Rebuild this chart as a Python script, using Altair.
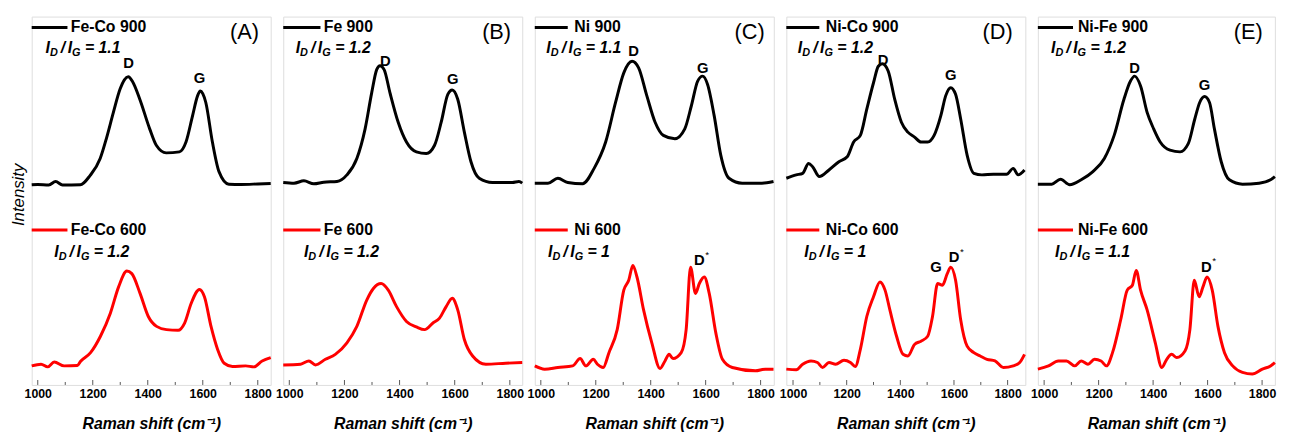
import altair as alt
import pandas as pd

FONT = "Liberation Sans"
H = 373
YDOM = [0, 373]

# ---------------- data (Raman shift, intensity a.u.) ----------------
# (A) Fe-Co
feco900_x = [978, 1000, 1040, 1065, 1090, 1155, 1190, 1227, 1250, 1275, 1299, 1315, 1329, 1345, 1371, 1407, 1431,
             1467, 1515, 1539, 1563, 1581, 1591, 1600, 1611, 1635, 1659, 1695, 1740, 1800, 1847]
feco900_y = [202.7, 203, 202.5, 206, 202.5, 202.7, 212, 229.3, 250, 276, 299.3, 309, 312, 307, 289.3, 259.3, 242.7,
             235, 236, 246, 272.7, 292.7, 297.7, 295, 286, 246, 216, 203.3, 203, 203.5, 204]
feco600_x = [978, 1012, 1036, 1060, 1096, 1144, 1156, 1192, 1228, 1264, 1294, 1324, 1342, 1372, 1402, 1432, 1468,
             1510, 1534, 1558, 1588, 1606, 1630, 1654, 1678, 1708, 1756, 1786, 1816, 1847]
feco600_y = [19.3, 21, 18.3, 23.3, 19.3, 19.7, 24, 32.7, 49.3, 72.7, 99.3, 115.3, 112.7, 92.7, 69.3, 59.3, 56,
             55.3, 62.7, 82.7, 96.7, 89.3, 59.3, 36, 22, 18.7, 19.3, 18.3, 24.3, 27.7]
# (B) Fe
fe900_x = [978, 1017, 1053, 1089, 1125, 1173, 1209, 1245, 1275, 1299, 1317, 1329, 1344, 1365, 1395, 1425, 1461,
           1497, 1527, 1551, 1575, 1591, 1611, 1635, 1659, 1689, 1737, 1809, 1833, 1845]
fe900_y = [205, 204.3, 206.7, 203.7, 205.3, 206, 212.7, 229.3, 259.3, 296, 319.3, 323.3, 319.3, 296, 266, 246, 236,
           234.3, 242.7, 266, 294.3, 298.7, 289.3, 256, 226, 209.3, 205, 205, 206, 204.3]
fe600_x = [978, 1041, 1071, 1095, 1131, 1167, 1209, 1245, 1281, 1305, 1333, 1359, 1389, 1425, 1461, 1491, 1521,
           1545, 1569, 1591, 1611, 1635, 1665, 1713, 1785, 1845]
fe600_y = [20.3, 21, 24.3, 20.3, 26, 31, 42.7, 59.3, 86, 97.7, 102.7, 96, 79.3, 64.3, 58.7, 56, 62.7,
           67.7, 79.3, 87.7, 76, 46, 29.3, 21, 22, 22.7]
# (C) Ni
ni900_x = [978, 1026, 1062, 1098, 1152, 1194, 1236, 1272, 1302, 1332, 1356, 1386, 1416, 1446, 1488, 1524, 1548,
           1571, 1589, 1607, 1631, 1655, 1685, 1733, 1805, 1847]
ni900_y = [204.3, 204.3, 209.3, 205, 203.7, 219.3, 246, 286, 316, 327.7, 321, 292.7, 266, 252.7, 249.3, 259.3, 282.7,
           307.7, 312.7, 304.3, 272.7, 232.7, 209.3, 204.3, 204.3, 206]
ni600_x = [978, 1014, 1062, 1116, 1143, 1164, 1191, 1206, 1227, 1248, 1278, 1302, 1320, 1335, 1350, 1374, 1404,
           1434, 1452, 1467, 1481, 1511, 1529, 1545, 1563, 1577, 1595, 1613, 1637, 1661, 1697, 1781, 1817, 1847]
ni600_y = [19.3, 16, 17.7, 19.3, 26.7, 19.3, 26, 21, 17.7, 32.7, 56, 96, 106, 121, 109.3, 76, 42.7,
           16.7, 24.3, 31, 26.7, 32.7, 56, 119.3, 92.7, 102.7, 109.3, 92.7, 52.7, 26, 17.7, 14.3, 16, 16]
# (D) Ni-Co
nico900_x = [975, 1012, 1036, 1058, 1073, 1098, 1134, 1171, 1202, 1226, 1251, 1275, 1300, 1318, 1333, 1355, 1379,
             1404, 1428, 1453, 1477, 1502, 1526, 1551, 1569, 1588, 1606, 1625, 1649, 1674, 1704, 1747, 1796, 1821,
             1839, 1863]
nico900_y = [209.3, 212.7, 214.3, 224.3, 221, 211, 217.7, 226, 231, 246, 252.7, 279.3, 306, 322.7, 325.3, 317.7, 289.3,
             266, 256, 251, 246, 246, 252.7, 272.7, 292.7, 301, 294.3, 269.3, 232.7, 214.3, 212.7, 213.3, 213.3, 219.3,
             212.7, 217.7]
nico600_x = [975, 1012, 1036, 1067, 1091, 1110, 1134, 1159, 1190, 1214, 1232, 1251, 1275, 1300, 1324, 1343, 1361,
             1386, 1410, 1428, 1453, 1477, 1502, 1520, 1539, 1557, 1575, 1588, 1606, 1625, 1649, 1674, 1698, 1723,
             1753, 1784, 1821, 1845, 1863]
nico600_y = [16, 15.3, 21, 24.3, 22.7, 17.7, 22.7, 21, 25, 22.7, 18.7, 36, 69.3, 89.3, 104.3, 96, 76,
             49.3, 31, 29.3, 41, 44.3, 49.3, 69.3, 102.7, 101, 112.7, 119.3, 106, 66, 39.3, 32.7, 29.3, 26,
             24.3, 17.7, 19.3, 22.7, 31]
# (E) Ni-Fe
nife900_x = [977, 1028, 1060, 1094, 1136, 1179, 1221, 1257, 1293, 1317, 1332, 1354, 1378, 1402, 1426, 1462, 1499,
             1529, 1553, 1571, 1589, 1607, 1625, 1650, 1680, 1728, 1789, 1831, 1847]
nife900_y = [203.3, 203.3, 208.3, 202.7, 207.7, 216, 229.3, 252.7, 289.3, 307.7, 312.7, 302.7, 276, 259.3, 246, 237.7,
             236, 244.3, 269.3, 286, 292, 286, 259.3, 226, 207.7, 203.3, 204.3, 207.7, 211]
nife600_x = [977, 1016, 1052, 1082, 1112, 1136, 1161, 1185, 1209, 1229, 1251, 1281, 1305, 1324, 1338, 1354, 1378,
             1408, 1432, 1450, 1468, 1487, 1517, 1535, 1551, 1569, 1583, 1598, 1617, 1638, 1662, 1692, 1728, 1764,
             1801, 1831, 1847]
nife600_y = [16, 19.3, 24.3, 24.3, 19.3, 24.3, 21, 26, 24.3, 19.3, 32.7, 66, 96, 101, 116, 96, 76,
             42.7, 17.7, 26, 31, 27.7, 34.3, 56, 106, 89.3, 99.3, 109.3, 96, 59.3, 32.7, 19.3, 12.7, 11,
             16, 19.3, 22.7]

tags = ["(A)", "(B)", "(C)", "(D)", "(E)"]
names_900 = ["Fe-Co 900", "Fe 900", "Ni 900", "Ni-Co 900", "Ni-Fe 900"]
names_600 = ["Fe-Co 600", "Fe 600", "Ni 600", "Ni-Co 600", "Ni-Fe 600"]
ratio_900 = ["1.1", "1.2", "1.1", "1.2", "1.2"]
ratio_600 = ["1.2", "1.2", "1", "1", "1.1"]
major_ticks = [1000, 1200, 1400, 1600, 1800]
minor_ticks = [1100, 1300, 1500, 1700]

# ---------------- layout / annotation placement ----------------
PANELS = [
    dict(top=(feco900_x, feco900_y), bot=(feco600_x, feco600_y), domain=(978, 1847), width=242,
         leg_end=1108, leg_text=1120, ratio_x=(1028, 1060), tag_x=1752,
         peaks=[("D", 1330, 326, False), ("G", 1588, 311, False)]),
    dict(top=(fe900_x, fe900_y), bot=(fe600_x, fe600_y), domain=(978, 1845), width=242,
         leg_end=1113, leg_text=1125, ratio_x=(1023, 1053), tag_x=1752,
         peaks=[("D", 1348, 328, False), ("G", 1593, 310, False)]),
    dict(top=(ni900_x, ni900_y), bot=(ni600_x, ni600_y), domain=(978, 1848), width=242,
         leg_end=1098, leg_text=1122, ratio_x=(1020, 1026), tag_x=1760,
         peaks=[("D", 1338, 338, False), ("G", 1589, 321, False), ("D", 1577, 126, True)]),
    dict(top=(nico900_x, nico900_y), bot=(nico600_x, nico600_y), domain=(975, 1866), width=242,
         leg_end=1098, leg_text=1122, ratio_x=(1018, 1042), tag_x=1763,
         peaks=[("D", 1336, 329, False), ("G", 1588, 314, False), ("G", 1533, 119, False),
                ("D", 1600, 129, True)]),
    dict(top=(nife900_x, nife900_y), bot=(nife600_x, nife600_y), domain=(977, 1847), width=240,
         leg_end=1106, leg_text=1124, ratio_x=(1025, 1040), tag_x=1749,
         peaks=[("D", 1332, 321, False), ("G", 1589, 304, False), ("D", 1595, 119, True)]),
]
LEG_Y = (362, 157)
RATIO_Y = (341, 135)
TAG_Y = 357
LW = 3

XAXIS = alt.Axis(values=major_ticks, format="d", title="Raman shift (cm\u207b\u00b9)", ticks=False, domain=False,
                 grid=False, labelFont=FONT, labelFontSize=12.5, labelFontWeight="bold", labelColor="black",
                 labelPadding=3, labelFlush=False, labelOverlap=False, titleFont=FONT, titleFontSize=16,
                 titleFontStyle="italic", titleFontWeight="bold", titleColor="black", titlePadding=16)
YAXIS = alt.Axis(title="Intensity", labels=False, ticks=False, domain=False, grid=False, titleFont=FONT,
                 titleFontSize=17, titleFontStyle="italic", titleFontWeight="normal", titleColor="black",
                 titlePadding=4, titleY=180)


def make_panel(i, p):
    xs = alt.Scale(domain=list(p["domain"]), nice=False, zero=False)
    ys = alt.Scale(domain=YDOM, nice=False, zero=False)
    yaxis = YAXIS if i == 0 else None

    def X(f="x"):
        return alt.X(f"{f}:Q", scale=xs, axis=XAXIS)

    def Y():
        return alt.Y("y:Q", scale=ys, axis=yaxis)

    top = pd.DataFrame({"x": p["top"][0], "y": p["top"][1]})
    bot = pd.DataFrame({"x": p["bot"][0], "y": p["bot"][1]})
    layers = [
        alt.Chart(top).mark_line(color="black", strokeWidth=LW, interpolate="monotone").encode(x=X(), y=Y()),
        alt.Chart(bot).mark_line(color="#ff0000", strokeWidth=LW, interpolate="monotone").encode(x=X(), y=Y()),
    ]
    # legend samples
    leg = pd.DataFrame({"x": [p["domain"][0]] * 2, "x2": [p["leg_end"]] * 2, "y": list(LEG_Y),
                        "c": ["black", "#ff0000"], "t": [names_900[i], names_600[i]],
                        "xt": [p["leg_text"]] * 2})
    layers.append(alt.Chart(leg).mark_rule(strokeWidth=LW).encode(
        x=X(), x2=alt.X2("x2:Q"), y=Y(), color=alt.Color("c:N", scale=None)))
    layers.append(alt.Chart(leg).mark_text(align="left", baseline="middle", font=FONT, fontSize=16,
                                           fontWeight="bold", color="black").encode(x=X("xt"), y=Y(), text="t:N"))
    # I_D / I_G = value
    rat = pd.DataFrame({"x": list(p["ratio_x"]), "y": list(RATIO_Y),
                        "t": ["= " + ratio_900[i], "= " + ratio_600[i]]})
    main = dict(align="left", baseline="middle", font=FONT, fontStyle="italic", fontWeight="bold",
                color="black")
    pieces = [("I", 0, 0, 16), ("D", 4.5, 5, 11), ("/", 15.5, 0, 16), ("I", 22.5, 0, 16),
              ("G", 27, 5, 11)]
    for txt, dx, dy, fs in pieces:
        layers.append(alt.Chart(rat).mark_text(text=txt, dx=dx, dy=dy, fontSize=fs, **main).encode(x=X(), y=Y()))
    layers.append(alt.Chart(rat).mark_text(dx=40, fontSize=16, **main).encode(x=X(), y=Y(), text="t:N"))
    # panel tag
    tag = pd.DataFrame({"x": [p["tag_x"]], "y": [TAG_Y], "t": [tags[i]]})
    layers.append(alt.Chart(tag).mark_text(align="center", baseline="middle", font=FONT, fontSize=22,
                                           color="black").encode(x=X(), y=Y(), text="t:N"))
    # peak labels
    pk = pd.DataFrame({"t": [q[0] for q in p["peaks"]], "x": [q[1] for q in p["peaks"]],
                       "y": [q[2] for q in p["peaks"]], "star": [q[3] for q in p["peaks"]]})
    layers.append(alt.Chart(pk).mark_text(align="center", baseline="middle", font=FONT, fontSize=15,
                                          fontWeight="bold", color="black").encode(x=X(), y=Y(), text="t:N"))
    st = pk[pk["star"]]
    if len(st):
        layers.append(alt.Chart(st).mark_text(text="*", align="center", baseline="middle", font=FONT,
                                              fontSize=10, color="black", dx=8, dy=-6).encode(x=X(), y=Y()))
    # inward ticks
    maj = pd.DataFrame({"x": major_ticks})
    mnr = pd.DataFrame({"x": minor_ticks})
    layers.append(alt.Chart(maj).mark_rule(color="#555555", strokeWidth=1).encode(
        x=X(), y=alt.value(H), y2=alt.value(H - 5)))
    layers.append(alt.Chart(mnr).mark_rule(color="#555555", strokeWidth=1).encode(
        x=X(), y=alt.value(H), y2=alt.value(H - 3)))
    return alt.layer(*layers).properties(width=p["width"], height=H)


panels = [make_panel(i, p) for i, p in enumerate(PANELS)]
chart = alt.hconcat(*panels, spacing=12.7, bounds="flush").properties(
    padding={"left": 1, "top": 5, "right": 0, "bottom": 0}
).configure_view(stroke="#555555", strokeWidth=1).configure(font=FONT)

chart.save("out.html", embed_options={"renderer": "svg", "actions": False})
